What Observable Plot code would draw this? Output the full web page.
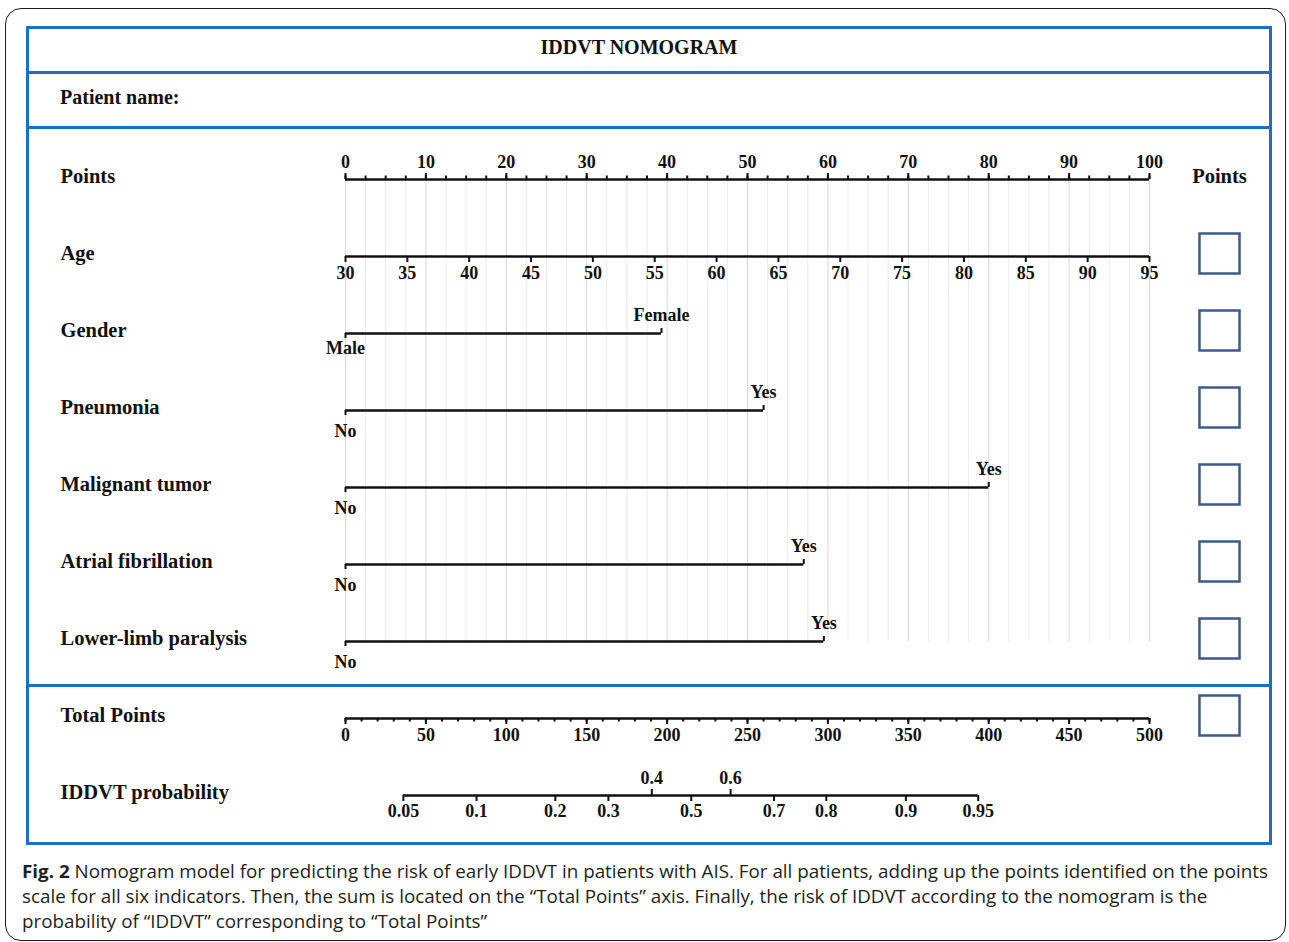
<!DOCTYPE html>
<html>
<head>
<meta charset="utf-8">
<script src="https://cdn.jsdelivr.net/npm/d3@7"></script>
<script src="https://cdn.jsdelivr.net/npm/@observablehq/plot@0.6"></script>
<style>
  html, body { margin: 0; padding: 0; background: #fff; }
  #root { position: relative; width: 1289px; height: 942px; overflow: hidden; background: #fff; }
  .outer { position: absolute; left: 5px; top: 8px; width: 1281px; height: 933px; box-sizing: border-box;
           border: 1.5px solid #1a1a1a; border-radius: 16px; }
  .frame { position: absolute; left: 26px; top: 26px; width: 1246px; height: 819px; box-sizing: border-box;
           border: 3px solid #1b6fc7; }
  .sep { position: absolute; left: 26px; width: 1246px; height: 3px; background: #1b6fc7; }
  .serif { font-family: "Liberation Serif", "Times New Roman", serif; font-weight: bold; color: #111; }
  #title { position: absolute; left: 0; width: 1278px; top: 36px; text-align: center; font-size: 20px; }
  #patient { position: absolute; left: 60px; top: 86px; font-size: 20px; }
  #chart { position: absolute; left: 0; top: 0; }
  #caption { position: absolute; left: 22px; top: 859px; font-family: "Open Sans", sans-serif; color: #231f20;
             line-height: 25px; white-space: nowrap; transform-origin: 0 0; }
  #caption b { font-weight: 700; }
</style>
</head>
<body>
<div id="root">
  <div class="outer"></div>
  <div class="frame"></div>
  <div class="sep" style="top:71px"></div>
  <div class="sep" style="top:126px"></div>
  <div class="sep" style="top:684px"></div>
  <div id="title" class="serif">IDDVT NOMOGRAM</div>
  <div id="patient" class="serif">Patient name:</div>
  <div id="chart"></div>
  <div id="caption"></div>
</div>
<script>
// ---------- data ----------
const rows = ["Points", "Age", "Gender", "Pneumonia", "Malignant tumor", "Atrial fibrillation",
              "Lower-limb paralysis", "Total Points", "IDDVT probability"];
const pointsTicks = [0, 10, 20, 30, 40, 50, 60, 70, 80, 90, 100];
const ageTicks = [30, 35, 40, 45, 50, 55, 60, 65, 70, 75, 80, 85, 90, 95];
const binaryRows = ["Gender", "Pneumonia", "Malignant tumor", "Atrial fibrillation", "Lower-limb paralysis"];
const lowLabels = ["Male", "No", "No", "No", "No"];
const highLabels = ["Female", "Yes", "Yes", "Yes", "Yes"];
const highPoints = [39.3, 52, 80, 57, 59.5];
const totalTicks = [0, 50, 100, 150, 200, 250, 300, 350, 400, 450, 500];
const probTicks = [0.05, 0.1, 0.2, 0.3, 0.4, 0.5, 0.6, 0.7, 0.8, 0.9, 0.95];
const probTotalPoints = [36, 81.5, 130.5, 163.5, 190.5, 215, 239.5, 266.5, 299, 348.5, 393.5];
const probAbove = [0.4, 0.6];
const checkboxRows = ["Age", "Gender", "Pneumonia", "Malignant tumor", "Atrial fibrillation",
                      "Lower-limb paralysis", "Total Points"];
const captionLines = [
  ["Fig. 2", " Nomogram model for predicting the risk of early IDDVT in patients with AIS. For all patients, adding up the points identified on the points"],
  ["", "scale for all six indicators. Then, the sum is located on the \u201cTotal Points\u201d axis. Finally, the risk of IDDVT according to the nomogram is the"],
  ["", "probability of \u201cIDDVT\u201d corresponding to \u201cTotal Points\u201d"]
];

// ---------- helpers (scale conversions onto the Points axis) ----------
const ageToPts = d3.scaleLinear([30, 95], [0, 100]);
const totalToPts = d3.scaleLinear([0, 500], [0, 100]);
const pointsMinor = d3.range(0, 100.001, 2.5);
const totalMinor = d3.range(0, 500.001, 10);
const gridMajor = pointsMinor.filter(d => d % 10 === 0);
const gridMinor = pointsMinor.filter(d => d % 10 !== 0);

const axisLines = [
  {row: "Points", x1: 0, x2: 100},
  {row: "Age", x1: ageToPts(ageTicks[0]), x2: ageToPts(ageTicks[ageTicks.length - 1])},
  ...binaryRows.map((r, i) => ({row: r, x1: 0, x2: highPoints[i]})),
  {row: "Total Points", x1: totalToPts(0), x2: totalToPts(500)},
  {row: "IDDVT probability", x1: totalToPts(probTotalPoints[0]), x2: totalToPts(probTotalPoints[probTotalPoints.length - 1])}
];
const binaries = binaryRows.map((r, i) => ({row: r, low: lowLabels[i], high: highLabels[i], x: highPoints[i]}));
const probs = probTicks.map((p, i) => ({p, label: String(p), x: totalToPts(probTotalPoints[i]), above: probAbove.includes(p)}));

const ink = "#111";
const tickFont = {fontSize: 18, fontWeight: "bold", fill: ink};

// short tick: rule at a row, extended up (via insetTop) or down (via insetBottom)
function tick(data, x, row, dir, len, extra = {}) {
  const y = typeof row === "function" ? row : () => row;
  return Plot.ruleX(data, {
    x, y1: y, y2: y,
    insetTop: dir === "up" ? -len : 0,
    insetBottom: dir === "down" ? -len : 0,
    stroke: ink, strokeWidth: 2, ...extra
  });
}

const plot = Plot.plot({
  width: 1289,
  height: 860,
  marginLeft: 0, marginRight: 0, marginTop: 0, marginBottom: 0,
  style: {background: "transparent", fontFamily: "'Liberation Serif', 'Times New Roman', serif", color: ink, overflow: "visible"},
  x: {domain: [0, 100], range: [345, 1149], axis: null},
  y: {type: "point", domain: rows, range: [178, 796], padding: 0, axis: null},
  marks: [
    // grid
    Plot.ruleX(gridMinor, {x: d => d, y1: () => "Points", y2: () => "Lower-limb paralysis", stroke: "#ececec", strokeWidth: 1}),
    Plot.ruleX(gridMajor, {x: d => d, y1: () => "Points", y2: () => "Lower-limb paralysis", stroke: "#dadada", strokeWidth: 1}),
    // axis lines
    Plot.ruleY(axisLines, {y: "row", x1: "x1", x2: "x2", stroke: ink, strokeWidth: 2.5}),
    // Points axis
    tick(pointsMinor, d => d, "Points", "up", 3.5),
    tick(pointsTicks, d => d, "Points", "up", 6),
    Plot.text(pointsTicks, {x: d => d, y: () => "Points", text: d => String(d), dy: -17, ...tickFont}),
    // Age axis
    tick(ageTicks, d => ageToPts(d), "Age", "down", 6),
    Plot.text(ageTicks, {x: d => ageToPts(d), y: () => "Age", text: d => String(d), dy: 17, ...tickFont}),
    // binary variables
    tick(binaries, () => 0, d => d.row, "down", 5),
    tick(binaries, d => d.x, d => d.row, "up", 5),
    Plot.text(binaries.filter(d => d.low === "Male"), {x: () => 0, y: "row", text: "low", dy: 15, ...tickFont}),
    Plot.text(binaries.filter(d => d.low !== "Male"), {x: () => 0, y: "row", text: "low", dy: 21, ...tickFont}),
    Plot.text(binaries, {x: "x", y: "row", text: "high", dy: -18, ...tickFont}),
    // Total points axis
    tick(totalMinor, d => totalToPts(d), "Total Points", "down", 3.5),
    tick(totalTicks, d => totalToPts(d), "Total Points", "down", 6),
    Plot.text(totalTicks, {x: d => totalToPts(d), y: () => "Total Points", text: d => String(d), dy: 17, ...tickFont}),
    // probability axis
    tick(probs.filter(d => !d.above), d => d.x, "IDDVT probability", "down", 6),
    tick(probs.filter(d => d.above), d => d.x, "IDDVT probability", "up", 6),
    Plot.text(probs.filter(d => !d.above), {x: "x", y: () => "IDDVT probability", text: "label", dy: 16, ...tickFont}),
    Plot.text(probs.filter(d => d.above), {x: "x", y: () => "IDDVT probability", text: "label", dy: -17, ...tickFont}),
    // row labels
    Plot.text(rows, {y: d => d, text: d => d, frameAnchor: "left", dx: 60, dy: -3, textAnchor: "start", fontSize: 20.5, fontWeight: "bold", fill: ink}),
    Plot.text(["Points"], {y: d => d, text: d => d, frameAnchor: "right", dx: -70, dy: -3, textAnchor: "middle", fontSize: 20.5, fontWeight: "bold", fill: ink}),
    // checkboxes
    Plot.dot(checkboxRows, {y: d => d, frameAnchor: "right", dx: -70, dy: -3, symbol: "square", r: 22.6, stroke: "#3b5b8e", strokeWidth: 2.5, fill: "white"})
  ]
});
document.getElementById("chart").appendChild(plot);

// caption
const cap = document.getElementById("caption");
captionLines.forEach(([b, t]) => {
  const div = document.createElement("div");
  if (b) { const e = document.createElement("b"); e.textContent = b; div.appendChild(e); }
  div.appendChild(document.createTextNode(t));
  cap.appendChild(div);
});
cap.style.fontSize = "17.5px";
const firstW = cap.firstChild.getBoundingClientRect().width;
cap.style.transform = "scaleX(" + (1246 / firstW).toFixed(4) + ")";
</script>
</body>
</html>
